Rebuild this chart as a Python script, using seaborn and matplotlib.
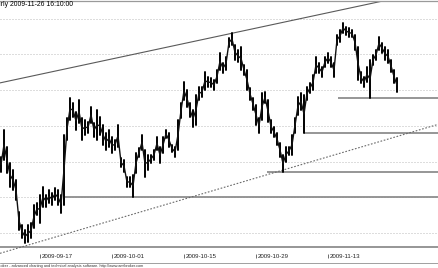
import numpy as np
import pandas as pd
import matplotlib
matplotlib.use("Agg")
import matplotlib.pyplot as plt
import matplotlib.transforms as mtransforms
from matplotlib.lines import Line2D
import seaborn as sns

# ---------------- data ----------------
title_text = "Hourly 2009-11-26 16:10:00"
footer_text = "AmiBroker - advanced charting and technical analysis software. http://www.amibroker.com"

bar_high = [121.3, 128.9, 124.1, 119.6, 117.7, 114.9, 105.9, 102.3, 100.9, 102.3,
            102.8, 107.9, 108.4, 110.7, 112.9, 110.7, 112.1, 111.2, 112.6, 112.1,
            110.7, 127.5, 132.2, 137.8, 136.4, 133.9, 137.3, 132.2, 131.7, 131.1,
            135.3, 130.8, 134.5, 132.5, 130.3, 128.0, 128.9, 126.9, 126.1, 130.3,
            121.0, 120.5, 115.7, 115.7, 116.3, 122.4, 123.8, 127.5, 123.3, 121.9,
            121.9, 123.3, 126.9, 124.1, 126.9, 128.9, 128.0, 124.7, 124.1, 131.7,
            136.4, 142.3, 140.1, 136.4, 134.5, 138.7, 140.9, 140.9, 145.1, 143.7,
            143.4, 142.9, 145.7, 150.4, 147.6, 149.3, 154.6, 156.0, 152.7, 151.3,
            152.1, 147.1, 145.7, 140.6, 137.8, 135.9, 132.2, 139.2, 139.5, 137.3,
            131.7, 129.7, 128.0, 125.2, 121.9, 124.1, 124.1, 127.5, 132.2, 138.1,
            139.2, 138.7, 140.9, 142.0, 144.3, 149.3, 147.6, 146.5, 149.3, 150.4,
            149.3, 147.6, 155.5, 156.9, 158.8, 157.7, 157.4, 156.9, 155.5, 152.1,
            145.1, 143.7, 146.5, 148.5, 149.9, 151.3, 154.9, 153.2, 152.1, 151.3,
            148.5, 145.7, 143.4]

bar_low = [117.1, 120.5, 116.8, 112.9, 112.1, 109.3, 100.9, 98.6, 97.2, 97.5,
           98.6, 101.4, 105.1, 102.8, 107.3, 107.3, 108.4, 107.9, 109.3, 107.9,
           105.6, 107.9, 126.1, 131.7, 132.5, 128.9, 130.8, 126.1, 127.5, 128.0,
           130.8, 126.9, 126.1, 127.5, 124.7, 123.3, 124.1, 122.4, 123.3, 124.1,
           118.5, 117.1, 112.9, 112.9, 110.1, 116.8, 121.3, 123.3, 115.7, 117.7,
           119.6, 120.5, 123.3, 119.6, 122.4, 126.6, 124.1, 122.7, 121.3, 123.3,
           132.2, 137.3, 135.3, 132.5, 129.7, 130.3, 137.3, 138.1, 140.1, 140.9,
           140.9, 140.1, 142.0, 145.7, 144.8, 145.7, 152.1, 152.7, 148.5, 147.9,
           145.7, 144.3, 140.1, 137.3, 134.5, 130.3, 128.0, 131.7, 136.4, 131.1,
           128.0, 126.9, 124.7, 121.3, 117.1, 119.9, 121.9, 121.9, 128.0, 133.1,
           134.5, 128.0, 137.3, 139.2, 140.1, 144.8, 144.8, 143.7, 146.5, 147.6,
           146.5, 143.7, 152.7, 153.5, 156.0, 155.5, 154.9, 154.9, 151.3, 142.9,
           142.0, 140.9, 142.3, 137.8, 147.1, 148.5, 151.3, 150.4, 148.5, 147.6,
           145.1, 142.0, 139.5]

tick_pos = [-11, 13, 37, 61, 85, 109]
tick_labels = ["2009-09-03", "2009-09-17", "2009-10-01", "2009-10-15",
               "2009-10-29", "2009-11-13"]

grid_levels = [100, 110, 120, 130, 140, 150, 160]

support_levels = [137.8, 128.0, 117.1, 110.1, 96.1]
support_start = [112.3, 101.0, 88.7, 21.3, -1.0]

upper_trend = [(0, 142.1), (128, 165.1)]
lower_trend = [(0, 94.4), (146, 130.5)]

# ---------------- figure ----------------
sns.set_theme(style="white")
plt.rcParams['font.family'] = ['Liberation Sans', 'DejaVu Sans']

W, H = 439, 268
fig = plt.figure(figsize=(W / 100, H / 100), dpi=100)
fig.patch.set_facecolor('white')
ax = fig.add_axes([0, (H - 254) / H, 1, (254 - 1) / H])
ax.set_facecolor('white')

n = len(bar_high)
idx = np.arange(n)
hi = np.array(bar_high)
lo = np.array(bar_low)
df = pd.DataFrame({
    'bar': np.concatenate([idx, idx]),
    'price': np.concatenate([lo, hi]),
})
mid = pd.DataFrame({'bar': idx, 'price': (hi + lo) / 2})

# grid
for lev in grid_levels:
    ax.axhline(lev, color='#bdbdbd', lw=0.72, ls=(0, (1, 2)), zorder=1)

# support lines
for lev, st in zip(support_levels, support_start):
    ax.hlines(lev, st, 200, color='#8e8e8e', lw=1.3, zorder=2)

# trend lines
ax.axline(upper_trend[0], upper_trend[1], color='#5a5a5a', lw=0.8, zorder=2)
ax.axline(lower_trend[0], lower_trend[1], color='#6a6a6a', lw=0.8,
          ls=(0, (1.5, 1.5)), zorder=2)

# price bars (high-low range per bar, linked through bar midpoints)
sns.lineplot(data=df, x='bar', y='price', units='bar', estimator=None,
             color='black', lw=1.4, ax=ax, zorder=3, sort=False)
sns.lineplot(data=mid, x='bar', y='price', estimator=None,
             color='#111111', lw=1.0, ax=ax, zorder=3, sort=False)

ax.set_xlim(-1 / 3, 146)
ax.set_ylim(94.13, 164.97)
ax.set_xlabel('')
ax.set_ylabel('')
ax.set_yticks([])
ax.set_xticks(tick_pos[1:])
ax.tick_params(axis='x', direction='out', length=2.8, width=0.6, color='#555555',
               labelbottom=False, bottom=True, pad=0)
for s in ['left', 'right', 'bottom']:
    ax.spines[s].set_visible(False)
ax.spines['top'].set_color('#9a9a9a')
ax.spines['top'].set_linewidth(0.9)

# date labels
trans = mtransforms.blended_transform_factory(ax.transData, fig.transFigure) + \
    mtransforms.ScaledTranslation(2 / 100, 0, fig.dpi_scale_trans)
for p, lab in zip(tick_pos, tick_labels):
    ax.text(p, (H - 254.5) / H, lab, transform=trans, ha='left', va='top',
            fontsize=4.4, color='#222222', clip_on=False)

# bottom separator
fig.add_artist(Line2D([0, 1], [(H - 263) / H] * 2, transform=fig.transFigure,
                      color='#a0a0a0', lw=0.7))

# footer & title
fig.text(143 / W, (H - 267.3) / H, footer_text, ha='right', va='baseline',
         fontsize=2.8, color='#333333')
fig.text(73 / W, (H - 1.5) / H, title_text, ha='right', va='top',
         fontsize=4.95, color='black')

fig.savefig('out.png', dpi=100, facecolor='white')
